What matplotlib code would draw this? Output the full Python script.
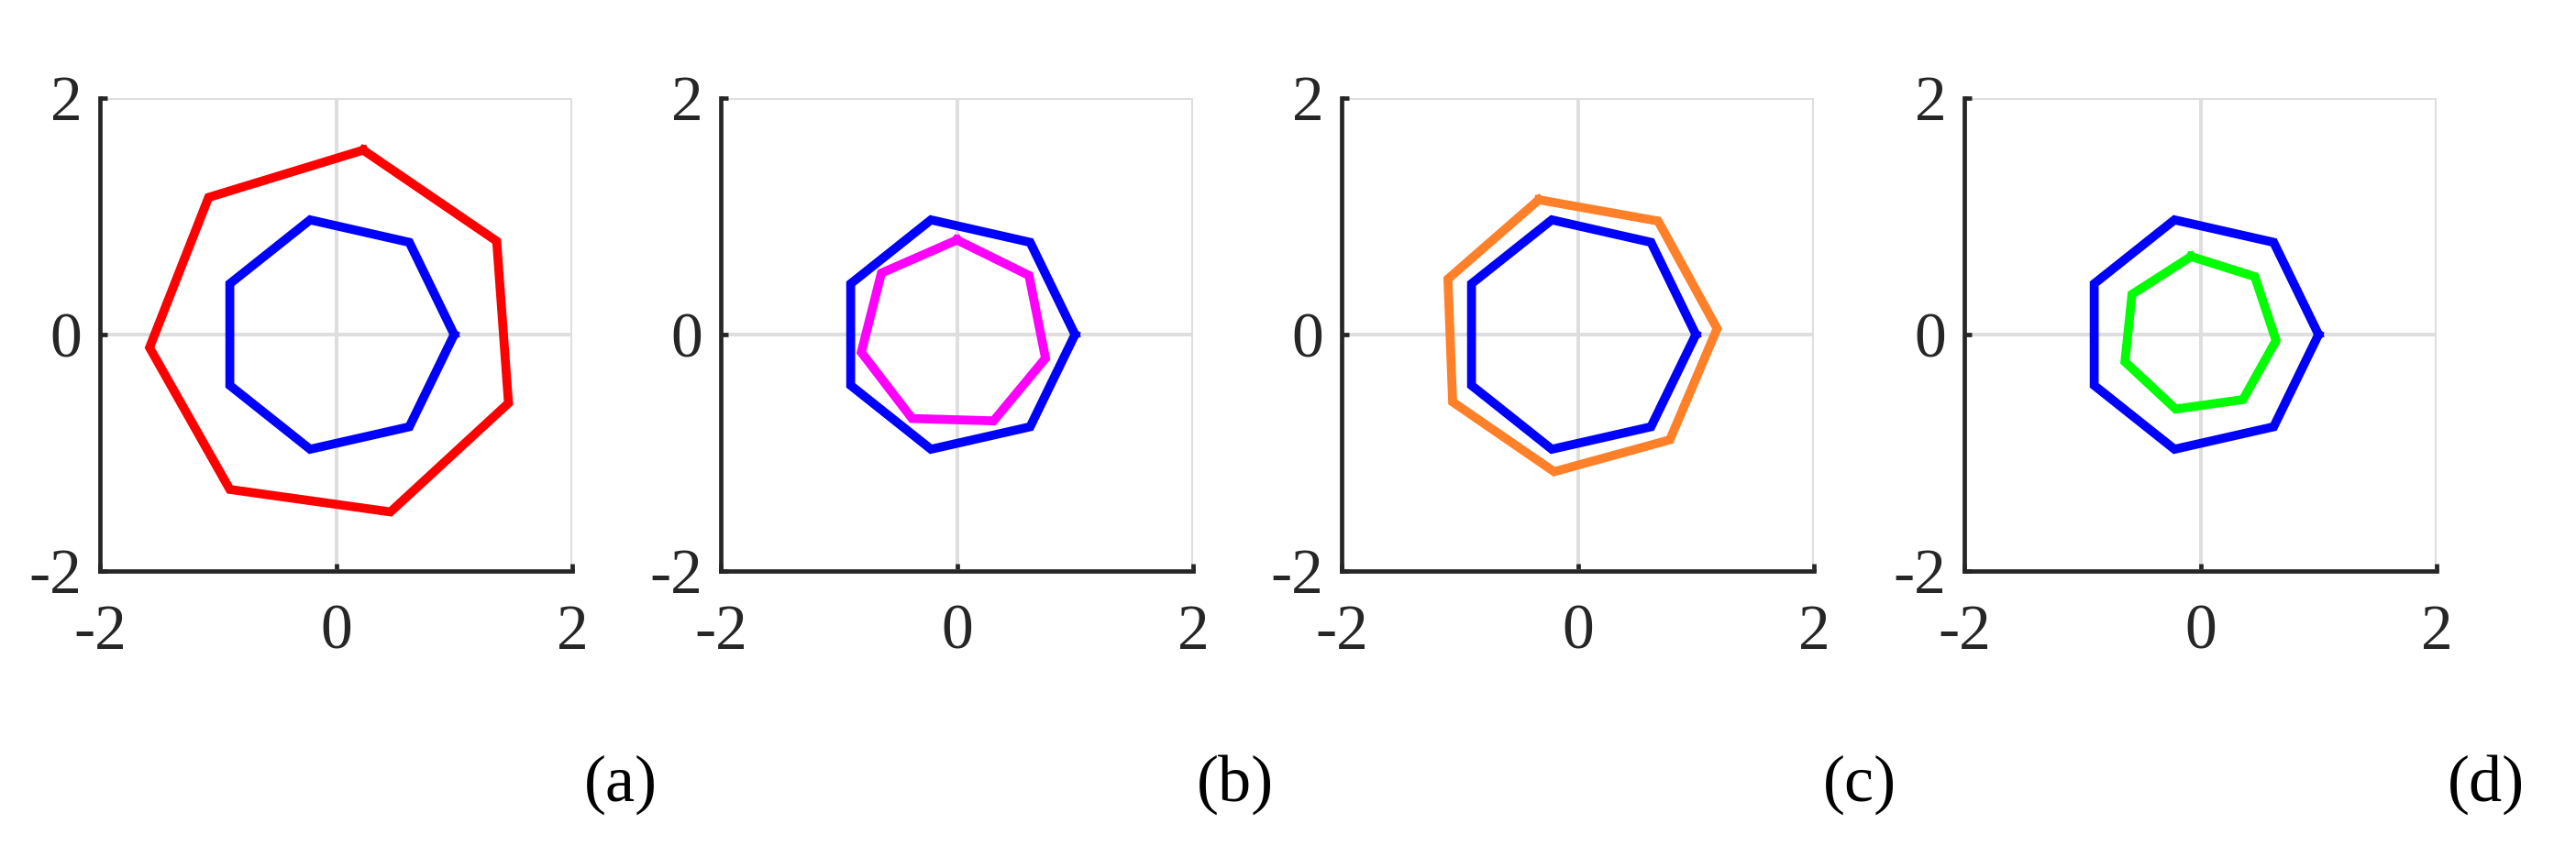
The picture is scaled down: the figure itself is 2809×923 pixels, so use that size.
"""Four panels comparing a unit heptagon with a deformed one."""

import numpy as np
import matplotlib
matplotlib.use("Agg")
import matplotlib.pyplot as plt

plt.rcParams["font.family"] = ["Liberation Serif", "DejaVu Serif"]

# reference (blue) heptagon
base_x = [1.00, 0.62, -0.22, -0.90, -0.90, -0.22, 0.62]
base_y = [0.00, 0.78, 0.97, 0.43, -0.43, -0.97, -0.78]

# (a) red
red_x = [0.23, 1.36, 1.46, 0.46, -0.90, -1.58, -1.08]
red_y = [1.56, 0.79, -0.58, -1.50, -1.31, -0.11, 1.16]

# (b) magenta
mag_x = [0.00, 0.61, 0.75, 0.31, -0.38, -0.81, -0.64]
mag_y = [0.80, 0.50, -0.20, -0.73, -0.71, -0.15, 0.52]

# (c) orange
org_x = [-0.33, 0.68, 1.18, 0.78, -0.20, -1.06, -1.10]
org_y = [1.14, 0.96, 0.05, -0.89, -1.16, -0.57, 0.47]

# (d) green
grn_x = [-0.08, 0.46, 0.64, 0.36, -0.21, -0.64, -0.58]
grn_y = [0.66, 0.49, -0.05, -0.55, -0.63, -0.23, 0.34]

shapes = [(red_x, red_y, "#ff0000"), (mag_x, mag_y, "#ff00ff"),
          (org_x, org_y, "#ff8028"), (grn_x, grn_y, "#00ff00")]
panel_labels = ["(a)", "(b)", "(c)", "(d)"]
ticks = [-2, 0, 2]

W, H = 2809, 923
fig = plt.figure(figsize=(W / 100, H / 100), dpi=100)

lefts = [109, 786, 1463, 2142]   # pixel positions of the y axes
label_x = [677, 1347, 2028, 2711]
ax_w, ax_h = 515, 516
ax_bottom = 923 - 623


def closed(v):
    return list(v) + [v[0]]


for i, (sx, sy, col) in enumerate(shapes):
    ax = fig.add_axes([lefts[i] / W, ax_bottom / H, ax_w / W, ax_h / H])
    ax.plot(closed(base_x), closed(base_y), color="#0000ff", lw=7, solid_joinstyle="miter", zorder=3)
    ax.plot(closed(sx), closed(sy), color=col, lw=7, solid_joinstyle="miter", zorder=3)
    ax.set_xlim(-2, 2)
    ax.set_ylim(-2, 2)
    ax.set_xticks(ticks)
    ax.set_yticks(ticks)
    ax.set_xticklabels([str(t) for t in ticks])
    ax.set_yticklabels([str(t) for t in ticks])
    ax.grid(True, color="#dedede", lw=2.9, zorder=0)
    ax.set_axisbelow(True)
    for s in ["top", "right"]:
        ax.spines[s].set_visible(False)
    for s in ["left", "bottom"]:
        ax.spines[s].set_color("#262626")
        ax.spines[s].set_linewidth(3.4)
        ax.spines[s].set_capstyle("projecting")
    ax.tick_params(axis="both", direction="in", length=6, width=3.4, color="#262626",
                   labelsize=50, labelcolor="#262626")
    ax.tick_params(axis="x", pad=26)
    ax.tick_params(axis="y", pad=14)
    fig.text(label_x[i] / W, 1 - 856 / H, panel_labels[i], ha="center", va="center",
             fontsize=52, color="black")

fig.savefig("out.png", dpi=100, facecolor="white")
